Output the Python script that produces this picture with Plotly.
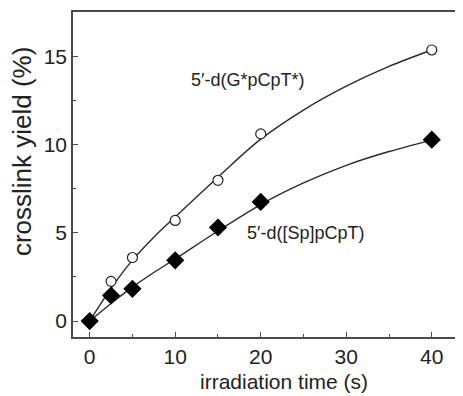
import plotly.graph_objects as go

# Measured data points
time_s = [0, 2.5, 5, 10, 15, 20, 40]
g_star = [0, 2.25, 3.6, 5.7, 7.97, 10.6, 15.35]       # 5'-d(G*pCpT*) open circles
sp_yield = [0, 1.45, 1.83, 3.44, 5.3, 6.75, 10.27]     # 5'-d([Sp]pCpT) filled diamonds

# Fitted curves, values
curve_t = [0, 2.5, 5, 7.5, 10, 15, 20, 25, 30, 35, 40]
g_curve = [0, 1.85, 3.45, 4.75, 5.9, 8.15, 10.3, 11.95, 13.3, 14.42, 15.35]
sp_curve = [0, 1.0, 1.92, 2.75, 3.52, 5.1, 6.6, 7.82, 8.82, 9.6, 10.25]

x_ticks = [0, 10, 20, 30, 40]
y_ticks = [0, 5, 10, 15]

FONT = "Arial, Liberation Sans, Helvetica, sans-serif"
LINE = "#2a2a2a"
AX = "#4a4a4a"

fig = go.Figure()
fig.add_trace(go.Scatter(x=curve_t, y=g_curve, mode="lines", line=dict(color=LINE, width=1.4, shape="spline"),
                         hoverinfo="skip", showlegend=False))
fig.add_trace(go.Scatter(x=curve_t, y=sp_curve, mode="lines", line=dict(color=LINE, width=1.4, shape="spline"),
                         hoverinfo="skip", showlegend=False))
fig.add_trace(go.Scatter(x=time_s, y=g_star, mode="markers",
                         marker=dict(symbol="circle", size=10, color="white", line=dict(color="#222", width=1.2)),
                         showlegend=False))
fig.add_trace(go.Scatter(x=time_s, y=sp_yield, mode="markers",
                         marker=dict(symbol="diamond", size=14, color="black", line=dict(color="black", width=0)),
                         showlegend=False))

fig.add_annotation(x=18.5, y=13.63, text="5′-d(G*pCpT*)", showarrow=False,
                   font=dict(family=FONT, size=18, color="#222"), xanchor="center", yanchor="middle")
fig.add_annotation(x=25.2, y=4.97, text="5′-d([Sp]pCpT)", showarrow=False,
                   font=dict(family=FONT, size=18, color="#222"), xanchor="center", yanchor="middle")

# axis titles
fig.add_annotation(xref="paper", yref="paper", x=0.542, y=0, yshift=-44, text="irradiation time (s)",
                   showarrow=False, font=dict(family=FONT, size=21, color="#222"),
                   xanchor="center", yanchor="middle")
fig.add_annotation(xref="paper", yref="paper", x=0, xshift=-51, y=0.572, text="crosslink yield (%)",
                   textangle=-90, showarrow=False, font=dict(family=FONT, size=26, color="#222"),
                   xanchor="center", yanchor="middle")

fig.update_xaxes(range=[-1.95, 43.65], tickvals=x_ticks, ticktext=[str(v) for v in x_ticks],
                 ticks="inside", ticklen=5, tickwidth=1.2, tickcolor=AX,
                 minor=dict(ticks="inside", ticklen=3, tickwidth=1.2, tickcolor=AX, tickvals=[5, 15, 25, 35]),
                 showline=True, linecolor=AX, linewidth=1.5, mirror=True,
                 showgrid=False, zeroline=False,
                 tickfont=dict(family=FONT, size=21, color="#222"))
fig.update_yaxes(range=[-0.9, 17.5], tickvals=y_ticks, ticktext=[str(v) for v in y_ticks],
                 ticks="inside", ticklen=5, tickwidth=1.2, tickcolor=AX,
                 minor=dict(ticks="inside", ticklen=3, tickwidth=1.2, tickcolor=AX, tickvals=[2.5, 7.5, 12.5]),
                 showline=True, linecolor=AX, linewidth=1.5, mirror=False,
                 showgrid=False, zeroline=False,
                 tickfont=dict(family=FONT, size=21, color="#222"))

# page body has an 8px default margin; compensate so the plot area sits where the reference has it
fig.update_layout(width=455, height=388, margin=dict(l=65, r=0, t=4, b=59),
                  plot_bgcolor="white", paper_bgcolor="white", showlegend=False)

fig.write_html("out.html")
